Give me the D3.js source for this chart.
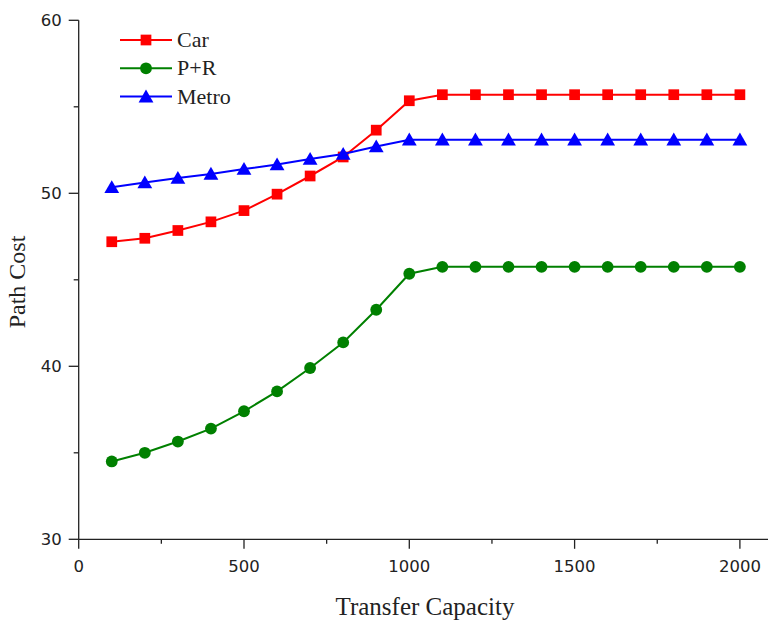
<!DOCTYPE html>
<html>
<head>
<meta charset="utf-8">
<script src="https://cdn.jsdelivr.net/npm/d3@7"></script>
<style>
  html, body { margin: 0; padding: 0; background: #fff; }
  svg { display: block; }
</style>
</head>
<body>
<svg id="chart" width="768" height="625"></svg>
<script>
const capacity = [100, 200, 300, 400, 500, 600, 700, 800, 900, 1000, 1100, 1200, 1300, 1400, 1500, 1600, 1700, 1800, 1900, 2000];
const carCost   = [47.2, 47.4, 47.85, 48.35, 49.0, 49.95, 51.0, 52.1, 53.65, 55.35, 55.7, 55.7, 55.7, 55.7, 55.7, 55.7, 55.7, 55.7, 55.7, 55.7];
const prCost    = [34.5, 35.0, 35.65, 36.4, 37.4, 38.55, 39.9, 41.38, 43.27, 45.35, 45.75, 45.75, 45.75, 45.75, 45.75, 45.75, 45.75, 45.75, 45.75, 45.75];
const metroCost = [50.35, 50.62, 50.88, 51.12, 51.4, 51.66, 51.98, 52.27, 52.7, 53.1, 53.1, 53.1, 53.1, 53.1, 53.1, 53.1, 53.1, 53.1, 53.1, 53.1];
const seriesNames = ["Car", "P+R", "Metro"];
const seriesColors = ["#ff0000", "#008000", "#0000ff"];
const seriesSymbols = [d3.symbolSquare, d3.symbolCircle, d3.symbolTriangle];
const xMajorTicks = [0, 500, 1000, 1500, 2000];
const xMinorTicks = [250, 750, 1250, 1750];
const yMajorTicks = [30, 40, 50, 60];
const yMinorTicks = [35, 45, 55];
const xTitle = "Transfer Capacity";
const yTitle = "Path Cost";

const SERIF = "'Liberation Serif', 'Times New Roman', serif";
const SANS = "'DejaVu Sans', sans-serif";
const seriesValues = [carCost, prCost, metroCost];
const svg = d3.select("#chart");

const x = d3.scaleLinear().domain([0, 2085]).range([78.7, 768]);
const y = d3.scaleLinear().domain([30, 60]).range([539.3, 20.3]);

// X axis
const xAxisG = svg.append("g").attr("transform", `translate(0,${y(30)})`);
xAxisG.append("line").attr("x1", x(0)).attr("x2", 768).attr("y1", 0).attr("y2", 0)
  .attr("stroke", "#222").attr("stroke-width", 1.3);
xAxisG.selectAll(".xmaj").data(xMajorTicks).enter().append("line")
  .attr("x1", d => x(d)).attr("x2", d => x(d)).attr("y1", 0).attr("y2", 9.5)
  .attr("stroke", "#222").attr("stroke-width", 1.3);
xAxisG.selectAll(".xmin").data(xMinorTicks).enter().append("line")
  .attr("x1", d => x(d)).attr("x2", d => x(d)).attr("y1", 0).attr("y2", 4.5)
  .attr("stroke", "#222").attr("stroke-width", 1.3);
xAxisG.selectAll(".xlab").data(xMajorTicks).enter().append("text")
  .attr("x", d => x(d)).attr("y", 32.5).attr("text-anchor", "middle")
  .attr("font-family", SANS).attr("fill", "#222")
  .attr("font-size", 16.5).text(d => d);

// Y axis
const yAxisG = svg.append("g").attr("transform", `translate(${x(0)},0)`);
yAxisG.append("line").attr("x1", 0).attr("x2", 0).attr("y1", y(60)).attr("y2", y(30))
  .attr("stroke", "#222").attr("stroke-width", 1.3);
yAxisG.selectAll(".ymaj").data(yMajorTicks).enter().append("line")
  .attr("x1", 0).attr("x2", -10).attr("y1", d => y(d)).attr("y2", d => y(d))
  .attr("stroke", "#222").attr("stroke-width", 1.3);
yAxisG.selectAll(".ymin").data(yMinorTicks).enter().append("line")
  .attr("x1", 0).attr("x2", -5).attr("y1", d => y(d)).attr("y2", d => y(d))
  .attr("stroke", "#222").attr("stroke-width", 1.3);
yAxisG.selectAll(".ylab").data(yMajorTicks).enter().append("text")
  .attr("x", -17).attr("y", d => y(d) + 6).attr("text-anchor", "end")
  .attr("font-family", SANS).attr("fill", "#222")
  .attr("font-size", 16.5).text(d => d);

// Titles
svg.append("text").attr("x", 425).attr("y", 615).attr("text-anchor", "middle")
  .attr("font-family", SERIF).attr("fill", "#222")
  .attr("font-size", 25).text(xTitle);
svg.append("text").attr("transform", `translate(25,282) rotate(-90)`)
  .attr("text-anchor", "middle").attr("font-family", SERIF).attr("fill", "#222")
  .attr("font-size", 24).text(yTitle);

// Series
const line = d3.line().x((d, i) => x(capacity[i])).y(d => y(d));
const symbolSizes = [115, 110, 95];
seriesValues.forEach((vals, s) => {
  const g = svg.append("g");
  g.append("path").datum(vals).attr("d", line).attr("fill", "none")
    .attr("stroke", seriesColors[s]).attr("stroke-width", 2);
  g.selectAll("path.m").data(vals).enter().append("path").attr("class", "m")
    .attr("transform", (d, i) => `translate(${x(capacity[i])},${y(d) + (s === 2 ? 1.5 : 0)})`)
    .attr("d", d3.symbol().type(seriesSymbols[s]).size(symbolSizes[s]))
    .attr("fill", seriesColors[s]);
});

// Legend
const legend = svg.append("g");
seriesNames.forEach((name, s) => {
  const ly = 40 + s * 28.3;
  legend.append("line").attr("x1", 120).attr("x2", 172).attr("y1", ly).attr("y2", ly)
    .attr("stroke", seriesColors[s]).attr("stroke-width", 2);
  legend.append("path").attr("transform", `translate(146,${ly + (s === 2 ? 1.5 : 0)})`)
    .attr("d", d3.symbol().type(seriesSymbols[s]).size(symbolSizes[s]))
    .attr("fill", seriesColors[s]);
  legend.append("text").attr("x", 177).attr("y", ly + 7)
    .attr("font-family", SERIF).attr("fill", "#222")
    .attr("font-size", 22).text(name);
});
</script>
</body>
</html>
